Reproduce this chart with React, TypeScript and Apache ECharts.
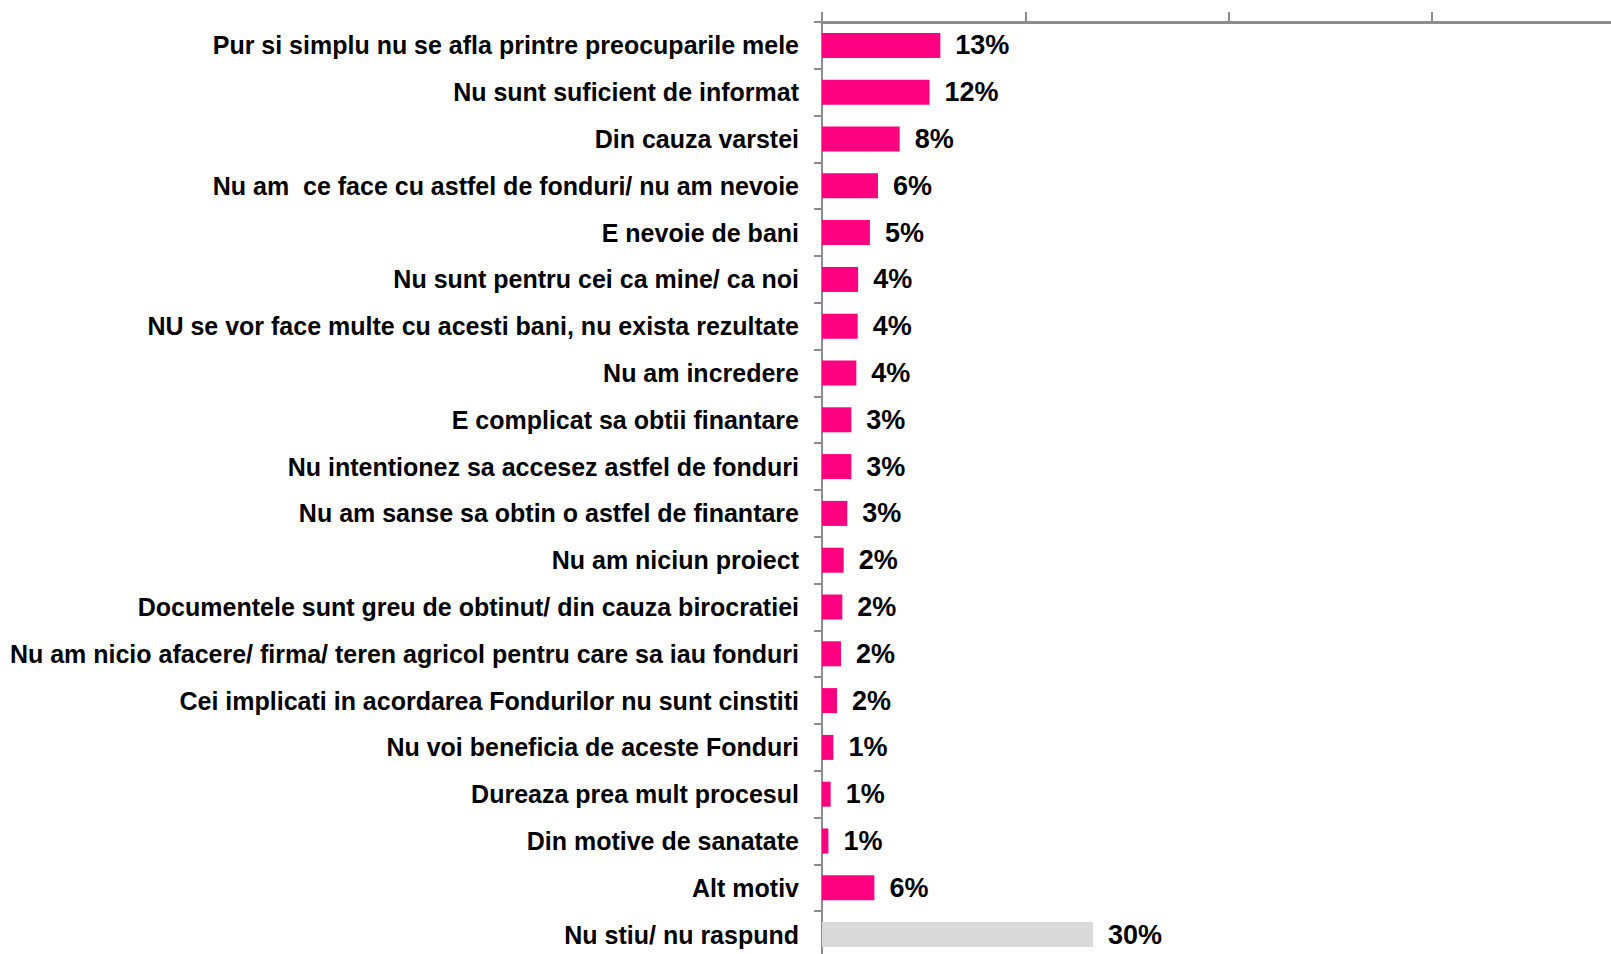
import React, { useEffect, useRef } from "react";
import * as echarts from "echarts";

const categories: string[] = [
  "Pur si simplu nu se afla printre preocuparile mele",
  "Nu sunt suficient de informat",
  "Din cauza varstei",
  "Nu am  ce face cu astfel de fonduri/ nu am nevoie",
  "E nevoie de bani",
  "Nu sunt pentru cei ca mine/ ca noi",
  "NU se vor face multe cu acesti bani, nu exista rezultate",
  "Nu am incredere",
  "E complicat sa obtii finantare",
  "Nu intentionez sa accesez astfel de fonduri",
  "Nu am sanse sa obtin o astfel de finantare",
  "Nu am niciun proiect",
  "Documentele sunt greu de obtinut/ din cauza birocratiei",
  "Nu am nicio afacere/ firma/ teren agricol pentru care sa iau fonduri",
  "Cei implicati in acordarea Fondurilor nu sunt cinstiti",
  "Nu voi beneficia de aceste Fonduri",
  "Dureaza prea mult procesul",
  "Din motive de sanatate",
  "Alt motiv",
  "Nu stiu/ nu raspund",
];

// bar lengths (percent)
const values: number[] = [
  13.1, 11.9, 8.6, 6.2, 5.3, 4.0, 3.95, 3.8, 3.25, 3.25, 2.8, 2.4, 2.25, 2.1,
  1.66, 1.26, 0.96, 0.71, 5.8, 30.0,
];

// value labels as printed in the picture
const valueLabels: string[] = [
  "13%", "12%", "8%", "6%", "5%", "4%", "4%", "4%", "3%", "3%", "3%", "2%",
  "2%", "2%", "2%", "1%", "1%", "1%", "6%", "30%",
];

const greyCategory = "Nu stiu/ nu raspund";

const axisMax = 90;
const axisInterval = 22.5;

export default function App() {
  const ref = useRef<HTMLDivElement>(null);

  useEffect(() => {
    if (!ref.current) return;
    const chart = echarts.init(ref.current, undefined, { renderer: "svg" });
    const font = "'Liberation Sans', Arial, sans-serif";
    chart.setOption({
      animation: false,
      backgroundColor: "#ffffff",
      grid: { left: 822, right: 0, top: 22, bottom: 0, containLabel: false },
      xAxis: {
        type: "value",
        position: "top",
        min: 0,
        max: axisMax,
        interval: axisInterval,
        axisLine: { show: true, lineStyle: { color: "#8c8c8c", width: 3 } },
        axisTick: { show: true, inside: false, length: 10, lineStyle: { color: "#8c8c8c", width: 2 } },
        axisLabel: { show: false },
        splitLine: { show: false },
      },
      yAxis: {
        type: "category",
        inverse: true,
        data: categories,
        axisLine: { show: true, lineStyle: { color: "#8c8c8c", width: 2 } },
        axisTick: { show: true, length: 8, lineStyle: { color: "#8c8c8c", width: 2 } },
        axisLabel: {
          margin: 23,
          color: "#000000",
          fontFamily: font,
          fontWeight: "bold",
          fontSize: 25,
        },
      },
      series: [
        {
          type: "bar",
          barWidth: 25,
          data: values.map((v, i) => ({
            value: v,
            itemStyle: { color: categories[i] === greyCategory ? "#d9d9d9" : "#ff0080" },
          })),
          label: {
            show: true,
            position: "right",
            distance: 15,
            color: "#000000",
            fontFamily: font,
            fontWeight: "bold",
            fontSize: 27,
            formatter: (p: any) => valueLabels[p.dataIndex],
          },
        },
      ],
    });
    return () => chart.dispose();
  }, []);

  return (
    <div
      style={{
        position: "fixed",
        left: 0,
        top: 0,
        width: 1611,
        height: 954,
        overflow: "hidden",
        background: "#fff",
      }}
    >
      <div ref={ref} style={{ width: 1635, height: 958 }} />
    </div>
  );
}
